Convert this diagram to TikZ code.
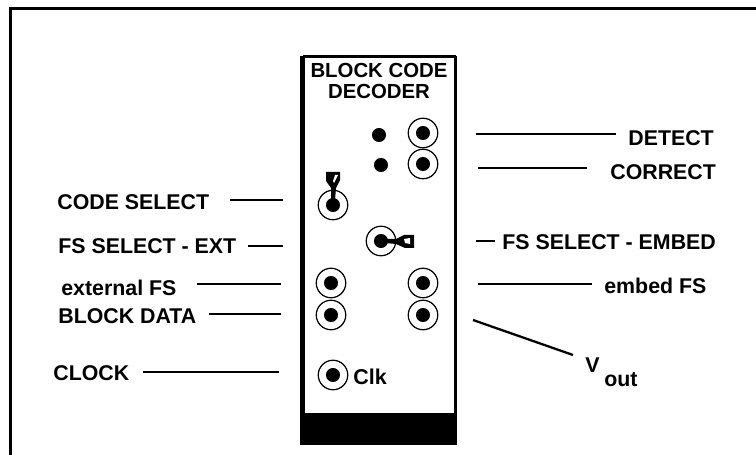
\documentclass[tikz,border=0pt]{standalone}
\usepackage{fontspec}
\setmainfont{Liberation Sans}
\usetikzlibrary{calc}
\tikzset{
 lead/.style={black, line width=1.3pt},
 jack/.style={draw, circle, line width=.7pt, minimum size=16.8pt, inner sep=0},
 pin/.style={fill, circle, minimum size=8pt, inner sep=0},
 tag/.style={anchor=west, inner sep=0, font=\bfseries\fontsize{12.15}{13}\selectfont}
}
\begin{document}
\begin{tikzpicture}[x=.02cm, y=-.02cm]
\useasboundingbox (0,0) rectangle (756,455);
% outer frame, open on two sides
\coordinate (fA) at (10.5,455);
\coordinate (fB) at (10.5,8.5);
\coordinate (fC) at (756,8.5);
\draw[black, line width=1.7pt] (fA)--(fB)--(fC);
% module panel
\coordinate (pA) at (302.5,445);
\coordinate (pB) at (302.5,56.5);
\coordinate (pC) at (455.5,56.5);
\coordinate (pD) at (455.5,445);
\draw[black, line width=2.6pt] (pA)--(pB);
\draw[black, line width=1.9pt] (pB)--(pC);
\draw[black, line width=1.4pt] (pC)--(pD);
\fill[black] (300,413) rectangle (457,445);
\node[font=\bfseries\fontsize{11.6}{12.5}\selectfont, align=center, inner sep=0] (title) at (379,81) {BLOCK CODE\\DECODER};
% sockets
\foreach \n/\x/\y in {det/423/133, cor/423/164, sel/333/205, fse/381/241, ext/331/283, dat/331/315, emb/423/283, out/423/315, clk/333/375} {
 \node[jack] (\n) at (\x,\y) {};
 \node[pin] at (\n) {};
}
\node[pin] (ledA) at (379,135) {};
\node[pin] (ledB) at (381,165) {};
\node[tag, font=\bfseries\fontsize{12.2}{13}\selectfont] (clktxt) at (353,377) {Clk};
% switch levers
\fill[black] (326,172)--(340,172)--(340,180)--(336,188)--(335,200)--(331,200)--(331,188)--(326,181)--cycle;
\fill[white] (335,175)--(338,175)--(334,183)--(333,181)--cycle;
\fill[black] (414,235)--(414,248)--(405,248)--(396,244)--(385,243)--(385,239)--(396,239)--(404,235)--cycle;
\fill[white] (404,239)--(410,238)--(410,244)--(405,243)--cycle;
% leader lines
\foreach \n/\xa/\xb/\y in {ldet/476/616/134, lcor/478/587/168, lfse/476/495/241, lemb/478/592/284, lsel/230/283/200, lfsx/248/283/246, lext/197/281/284, ldat/209/281/314, lclk/143/279/372} {
 \coordinate (\n a) at (\xa,\y);
 \coordinate (\n b) at (\xb,\y);
 \draw[lead] (\n a)--(\n b);
}
\coordinate (lvoa) at (473,320);
\coordinate (lvob) at (573,355);
\draw[lead] (lvoa)--(lvob);
% labels
\foreach \n/\x/\y/\t in {tsel/57/202/CODE SELECT, tfsx/58/246/FS SELECT - EXT, text/61/288/external FS, tdat/58/316/BLOCK DATA, tclk/53/373/CLOCK, tdet/628/138/DETECT, tcor/610/172/CORRECT, tfse/502/242/FS SELECT - EMBED, temb/604/286/embed FS, tv/585/365/V, tout/604/380/out} {
 \node[tag] (\n) at (\x,\y) {\t};
}
\end{tikzpicture}
\end{document}
